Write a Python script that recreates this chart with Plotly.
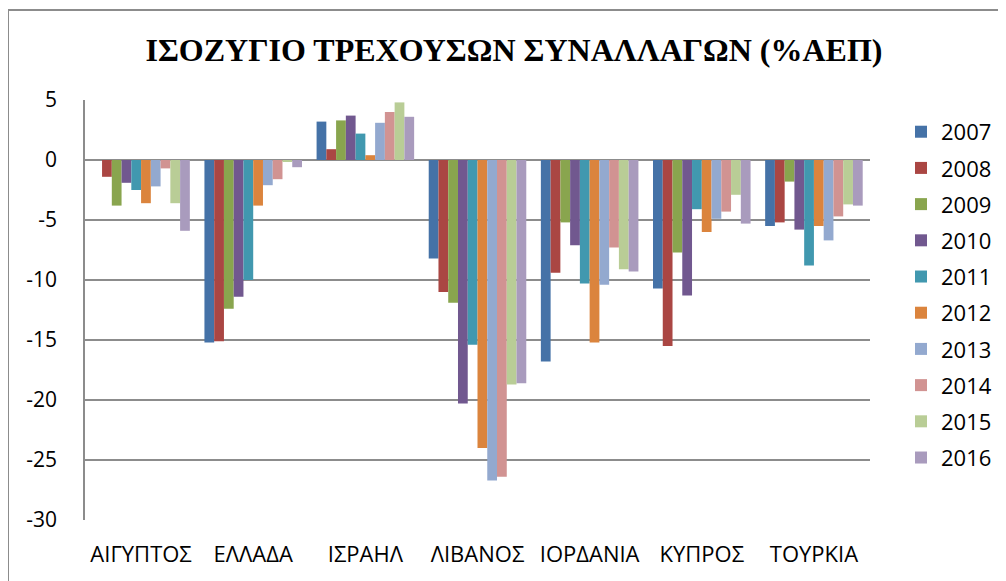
import plotly.graph_objects as go

countries = ["ΑΙΓΥΠΤΟΣ", "ΕΛΛΑΔΑ", "ΙΣΡΑΗΛ", "ΛΙΒΑΝΟΣ", "ΙΟΡΔΑΝΙΑ", "ΚΥΠΡΟΣ", "ΤΟΥΡΚΙΑ"]
years = ["2007", "2008", "2009", "2010", "2011", "2012", "2013", "2014", "2015", "2016"]

v2007 = [0.0, -15.2, 3.2, -8.2, -16.8, -10.7, -5.5]
v2008 = [-1.4, -15.1, 0.9, -11.0, -9.4, -15.5, -5.2]
v2009 = [-3.8, -12.4, 3.3, -11.9, -5.2, -7.7, -1.8]
v2010 = [-1.9, -11.4, 3.7, -20.3, -7.1, -11.3, -5.8]
v2011 = [-2.5, -10.0, 2.2, -15.4, -10.3, -4.1, -8.8]
v2012 = [-3.6, -3.8, 0.4, -24.0, -15.2, -6.0, -5.5]
v2013 = [-2.2, -2.1, 3.1, -26.7, -10.4, -4.9, -6.7]
v2014 = [-0.7, -1.6, 4.0, -26.4, -7.3, -4.3, -4.7]
v2015 = [-3.6, -0.1, 4.8, -18.7, -9.1, -2.9, -3.7]
v2016 = [-5.9, -0.6, 3.6, -18.6, -9.3, -5.3, -3.8]

y_tickvals = [5, 0, -5, -10, -15, -20, -25, -30]
y_ticktext = ["5", "0", "-5", "-10", "-15", "-20", "-25", "-30"]

series = [v2007, v2008, v2009, v2010, v2011, v2012, v2013, v2014, v2015, v2016]
colors = ["#4572A7", "#AA4643", "#89A54E", "#71588F", "#4198AF",
          "#DB843D", "#93A9CF", "#D19392", "#B9CD96", "#A99BBD"]

fig = go.Figure()
for yr, vals, col in zip(years, series, colors):
    fig.add_trace(go.Bar(x=countries, y=vals, name=yr, marker_color=col,
                         marker_line_width=0, legendgroup=yr))

fig.update_layout(
    width=998, height=573,
    margin=dict(l=77, r=136, t=92, b=61, autoexpand=False),
    paper_bgcolor="white", plot_bgcolor="white",
    barmode="group", bargap=0.13, bargroupgap=0,
    title=dict(text="<b>ΙΣΟΖΥΓΙΟ ΤΡΕΧΟΥΣΩΝ ΣΥΝΑΛΛΑΓΩΝ (%ΑΕΠ)</b>",
               x=0.507, xanchor="center", y=0.927, yanchor="middle",
               font=dict(family="Liberation Serif", size=32, color="black")),
    font=dict(family="Open Sans", size=20, color="black"),
    showlegend=True,
    legend=dict(x=1.0395, xanchor="left", y=0.974, yanchor="top",
                font=dict(family="Open Sans", size=22, color="black"),
                tracegroupgap=4.6, itemwidth=30, bgcolor="rgba(0,0,0,0)"),
)
fig.update_xaxes(showline=False, showgrid=False, ticks="",
                 tickfont=dict(family="Open Sans", size=22),
                 ticklabelstandoff=19)
fig.update_yaxes(range=[-30, 5], tickvals=y_tickvals, ticktext=y_ticktext,
                 showgrid=True, gridcolor="#8c8c8c",
                 gridwidth=1.5, zeroline=True, zerolinecolor="#8c8c8c", zerolinewidth=1.5,
                 showline=True, linecolor="#8c8c8c", linewidth=1.5,
                 ticks="", tickfont=dict(family="Open Sans", size=21), ticklabelstandoff=22)

# outer chart border
fig.add_shape(type="rect", xref="paper", yref="paper",
              x0=(0 - 77) / 785, x1=1.3, y0=-0.3, y1=(512 - 2) / 420,
              line=dict(color="#8c8c8c", width=2), fillcolor="rgba(0,0,0,0)", layer="below")

fig.write_html("out.html")
